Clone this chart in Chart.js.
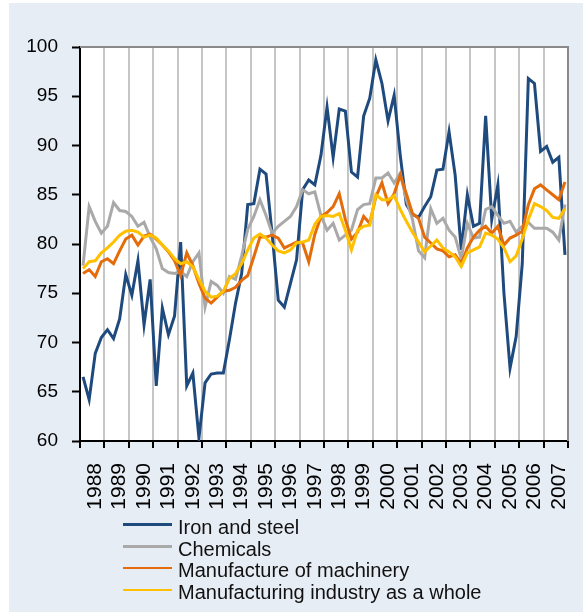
<!DOCTYPE html>
<html>
<head>
<meta charset="utf-8">
<script src="https://cdn.jsdelivr.net/npm/chart.js@4/dist/chart.umd.min.js"></script>
<style>
	body { margin: 0; background: #fff; }
	#panel { position: absolute; left: 9px; top: 3px; width: 574px; height: 609px; background: #e7edf5; }
	#chart { position: absolute; left: 0; top: 0; }
	#legend { position: absolute; left: 123px; top: 517px; font: 20px 'Liberation Sans', Arial, sans-serif; color: #111; }
	#legend .row { height: 21.7px; line-height: 21.7px; white-space: nowrap; }
	#legend .swatch { display: inline-block; width: 49px; height: 2.5px; margin-right: 6px; vertical-align: middle; position: relative; top: -4px; }
</style>
</head>
<body>
<div id="panel"></div>
<canvas id="chart" width="583" height="612"></canvas>
<div id="legend"></div>
<script>
const years = [1988, 1989, 1990, 1991, 1992, 1993, 1994, 1995, 1996, 1997,
	1998, 1999, 2000, 2001, 2002, 2003, 2004, 2005, 2006, 2007]
const quarters = ['Q1', 'Q2', 'Q3', 'Q4']

const ironAndSteel = [
	66.5, 64.2, 68.9, 70.5, 71.3, 70.4, 72.4, 76.9,
	74.8, 78.3, 71.8, 76.4, 65.6, 73.5, 70.8, 72.7,
	80.2, 65.6, 66.9, 60.3, 65.9, 66.8, 66.9, 66.9,
	70.3, 74.0, 77.0, 84.0, 84.1, 87.6, 87.1, 81.0,
	74.3, 73.6, 76.0, 78.4, 85.5, 86.5, 86.0, 89.0,
	93.9, 88.8, 93.7, 93.5, 87.3, 86.8, 93.0, 94.8,
	98.7, 96.3, 92.5, 95.1, 89.0, 84.0, 83.0, 82.7,
	83.8, 84.8, 87.5, 87.6, 91.4, 87.0, 79.4, 85.0,
	81.8, 82.1, 93.0, 82.5, 86.0, 75.0, 67.4, 70.6,
	78.0, 96.8, 96.3, 89.4, 89.9, 88.3, 88.8, 78.9
]
const chemicals = [
	77.8, 83.8, 82.3, 81.1, 81.8, 84.2, 83.4, 83.3,
	82.8, 81.8, 82.2, 80.7, 79.5, 77.5, 77.1, 77.0,
	77.2, 76.7, 78.2, 79.1, 73.6, 76.2, 75.8, 75.0,
	76.7, 76.4, 78.8, 81.5, 82.8, 84.5, 82.9, 81.1,
	81.8, 82.3, 82.8, 83.8, 85.5, 85.1, 85.3, 82.9,
	81.4, 82.1, 80.4, 80.9, 81.4, 83.5, 84.0, 84.1,
	86.7, 86.7, 87.2, 86.2, 87.2, 84.5, 82.5, 79.3,
	78.6, 83.6, 82.1, 82.6, 81.4, 80.7, 78.5, 82.1,
	80.6, 80.7, 83.5, 83.8, 82.9, 82.1, 82.3, 81.2,
	81.8, 82.2, 81.6, 81.6, 81.6, 81.2, 80.4, 84.0
]
const machinery = [
	77.0, 77.4, 76.7, 78.2, 78.5, 78.0, 79.3, 80.5,
	80.9, 79.9, 80.8, 81.0, 80.5, 79.9, 79.2, 78.3,
	76.8, 79.1, 77.8, 76.0, 74.5, 74.0, 74.6, 75.2,
	75.3, 75.6, 76.3, 76.8, 78.7, 80.7, 80.7, 80.9,
	80.6, 79.6, 79.9, 80.2, 80.1, 78.2, 81.0, 82.8,
	83.2, 83.8, 85.1, 82.5, 80.5, 81.2, 82.8, 82.1,
	84.8, 86.2, 84.1, 85.1, 87.0, 85.1, 83.1, 82.6,
	80.7, 80.1, 79.5, 79.3, 78.7, 78.9, 78.0, 79.6,
	80.7, 81.4, 81.8, 81.1, 81.8, 79.9, 80.6, 80.9,
	81.3, 84.0, 85.6, 86.0, 85.5, 85.0, 84.5, 86.3
]
const manufacturingWhole = [
	77.5, 78.2, 78.3, 79.1, 79.6, 80.2, 80.9, 81.3,
	81.4, 81.2, 80.7, 80.9, 80.6, 79.9, 79.3, 78.5,
	78.0, 78.2, 77.7, 76.4, 75.2, 74.6, 74.7, 75.2,
	76.5, 77.0, 78.0, 79.4, 80.6, 81.0, 80.6, 79.9,
	79.3, 79.1, 79.4, 80.1, 80.2, 80.4, 82.0, 82.8,
	82.9, 82.8, 83.1, 81.4, 79.4, 81.4, 81.8, 81.9,
	85.0, 84.5, 84.5, 84.9, 83.5, 82.3, 81.2, 80.2,
	79.2, 79.8, 80.4, 79.6, 79.2, 78.7, 77.7, 79.1,
	79.4, 79.7, 81.1, 80.9, 80.5, 79.6, 78.2, 78.8,
	80.5, 82.5, 84.1, 83.8, 83.4, 82.7, 82.6, 83.6
]

const labels = years.flatMap(y => quarters.map(q => y + ' ' + q))

const series = [
	{ label: 'Iron and steel', data: ironAndSteel, color: '#1f4a7e', order: 4 },
	{ label: 'Chemicals', data: chemicals, color: '#a9a9a9', order: 3 },
	{ label: 'Manufacture of machinery', data: machinery, color: '#e46c0a', order: 2 },
	{ label: 'Manufacturing industry as a whole', data: manufacturingWhole, color: '#ffc000', order: 1 }
]

const font = "'Liberation Sans', Arial, sans-serif"

/*
White plot area plus the grey frame on top and right
*/
const plotFrame = {
	id: 'plotFrame',
	beforeDraw: chart => {
		const { ctx, chartArea: a } = chart
		ctx.save()
		ctx.fillStyle = '#fff'
		ctx.fillRect(a.left, a.top, a.right - a.left, a.bottom - a.top)
		ctx.restore()
	},
	beforeDatasetsDraw: chart => {
		const { ctx, chartArea: a } = chart
		ctx.save()
		ctx.strokeStyle = '#8a8a8a'
		ctx.lineWidth = 2
		ctx.beginPath()
		ctx.moveTo(a.left, a.top)
		ctx.lineTo(a.right, a.top)
		ctx.lineTo(a.right, a.bottom)
		ctx.stroke()
		ctx.restore()
	}
}

const isYearEdge = c => c.index === undefined || c.index % 4 === 0

new Chart(document.getElementById('chart'), {
	type: 'line',
	data: {
		labels: labels,
		datasets: series.map(s => ({
			label: s.label,
			data: s.data,
			borderColor: s.color,
			backgroundColor: s.color,
			borderWidth: 3,
			pointRadius: 0,
			tension: 0,
			order: s.order
		}))
	},
	options: {
		responsive: false,
		animation: false,
		layout: { padding: { top: 47, right: 15, bottom: 0, left: 0 } },
		plugins: { legend: { display: false }, tooltip: { enabled: false } },
		scales: {
			x: {
				offset: true,
				afterFit: scale => {
					scale.height = 171
					scale.paddingLeft = 0
					scale.paddingRight = 0
				},
				grid: {
					offset: true,
					color: c => isYearEdge(c) ? '#c6c6c6' : 'rgba(0,0,0,0)',
					lineWidth: 2,
					tickColor: c => isYearEdge(c) ? '#000' : 'rgba(0,0,0,0)',
					tickLength: 7,
					tickWidth: 2
				},
				border: { color: '#000', width: 2 },
				ticks: {
					autoSkip: false,
					minRotation: 90,
					maxRotation: 90,
					padding: 15,
					color: '#000',
					font: { family: font, size: 21 },
					callback: (value, index) => index % 4 === 2 ? String(years[Math.floor(index / 4)]) : ''
				}
			},
			y: {
				min: 60,
				max: 100,
				afterFit: scale => {
					scale.width = 80
					scale.paddingTop = 0
					scale.paddingBottom = 0
				},
				grid: {
					drawOnChartArea: false,
					tickLength: 8,
					tickColor: '#000',
					tickWidth: 2
				},
				border: { color: '#000', width: 2 },
				ticks: {
					stepSize: 5,
					padding: 14,
					color: '#000',
					font: { family: font, size: 19 }
				}
			}
		}
	},
	plugins: [plotFrame]
})

/*
Legend is one entry per row, so build it by hand
*/
const legend = document.getElementById('legend')
series.forEach(s => {
	const row = document.createElement('div')
	row.className = 'row'
	row.innerHTML = '<span class="swatch" style="background:' + s.color + '"></span>' + s.label
	legend.appendChild(row)
})
</script>
</body>
</html>
